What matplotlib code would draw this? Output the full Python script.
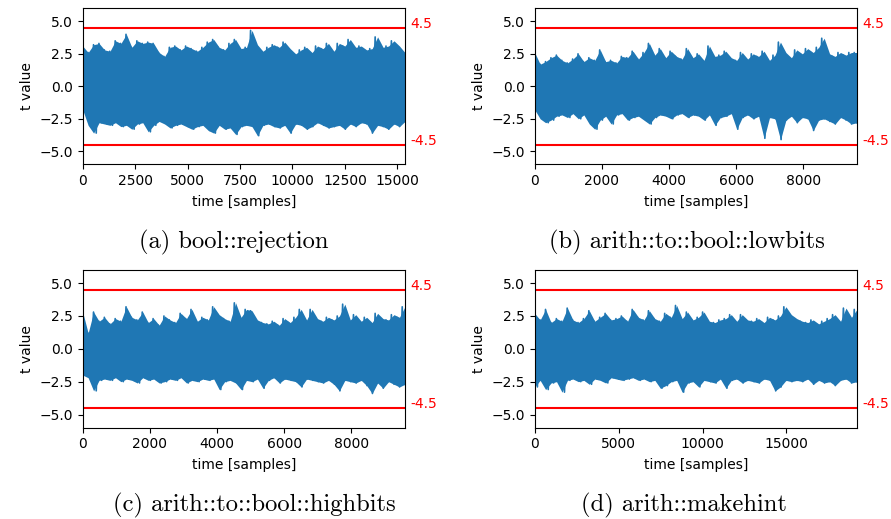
import numpy as np
import matplotlib
matplotlib.use("Agg")
from matplotlib import pyplot as plt
from matplotlib import transforms

# trace lengths (samples) of the four measurements
n_samples = [15360, 9600, 9600, 19200]
captions = ["(a) bool::rejection", "(b) arith::to::bool::lowbits",
            "(c) arith::to::bool::highbits", "(d) arith::makehint"]
threshold = 4.5

# upper / lower envelope of each t-value trace (60 bins)
hi_a = [3.1, 2.6, 3.2, 3.3, 2.8, 2.7, 3.5, 3.3, 4.0, 3.0,
        3.5, 3.3, 3.4, 3.3, 2.6, 2.3, 3.0, 3.1, 2.8, 3.1,
        2.9, 2.7, 3.0, 3.4, 3.6, 3.0, 2.8, 3.3, 3.6, 2.9,
        3.0, 4.3, 3.2, 2.7, 3.0, 3.2, 3.0, 3.4, 2.9, 2.5,
        2.8, 3.0, 2.6, 3.1, 2.9, 3.3, 2.7, 3.3, 3.1, 3.6,
        3.0, 3.1, 2.8, 2.9, 3.8, 3.0, 3.1, 3.5, 3.1, 2.6]
lo_a = [-1.8, -3.0, -3.6, -2.8, -2.9, -3.0, -2.8, -3.1, -3.0, -3.3,
        -2.9, -2.8, -3.5, -3.0, -2.7, -2.9, -3.2, -3.0, -2.9, -3.1,
        -3.3, -3.1, -3.0, -3.4, -3.6, -3.0, -3.3, -3.2, -3.7, -3.1,
        -3.0, -3.1, -3.8, -3.0, -2.9, -3.1, -3.2, -3.0, -3.6, -2.9,
        -3.0, -3.3, -3.1, -2.8, -3.0, -3.2, -3.1, -3.0, -3.3, -2.9,
        -3.1, -2.8, -2.9, -3.6, -3.0, -3.1, -3.3, -2.9, -3.1, -2.7]

hi_b = [2.6, 1.7, 1.9, 2.2, 2.4, 2.0, 1.8, 2.1, 2.5, 1.9,
        2.2, 2.0, 2.8, 1.9, 2.0, 1.8, 2.3, 2.2, 2.7, 2.1,
        2.6, 3.3, 2.4, 2.9, 2.2, 2.7, 2.3, 2.1, 2.9, 2.2,
        2.5, 2.0, 3.1, 2.3, 2.4, 2.7, 2.2, 2.0, 2.6, 2.1,
        2.5, 2.3, 2.7, 2.0, 2.4, 3.4, 2.6, 2.2, 2.8, 2.5,
        2.9, 2.6, 3.0, 3.7, 2.5, 2.3, 2.6, 2.4, 2.6, 2.6]
lo_b = [-1.8, -2.5, -2.8, -2.6, -2.3, -2.2, -2.4, -2.1, -2.5, -2.2,
        -2.9, -3.3, -2.6, -2.3, -2.9, -2.2, -2.1, -2.6, -2.4, -2.3,
        -2.6, -2.9, -2.4, -2.2, -2.3, -2.5, -2.2, -2.1, -2.4, -2.2,
        -2.3, -2.6, -2.2, -3.0, -2.4, -2.3, -2.1, -3.3, -2.4, -2.2,
        -2.5, -2.3, -4.0, -2.4, -2.5, -4.1, -2.6, -2.3, -2.8, -2.4,
        -2.5, -3.4, -2.6, -2.5, -2.7, -2.9, -2.4, -2.6, -2.9, -2.8]

hi_c = [2.8, 1.2, 2.8, 2.1, 2.4, 1.9, 2.3, 2.1, 3.2, 2.4,
        2.2, 2.8, 2.0, 2.3, 1.8, 2.5, 2.2, 2.0, 2.7, 2.3,
        3.0, 2.1, 2.4, 2.2, 3.2, 2.6, 2.3, 2.1, 3.5, 2.4,
        3.0, 2.9, 2.2, 2.0, 1.9, 2.1, 1.8, 2.3, 2.0, 2.4,
        3.0, 2.2, 3.0, 2.3, 2.1, 2.4, 2.2, 2.5, 3.4, 2.2,
        2.6, 2.1, 2.4, 2.0, 2.7, 2.3, 2.2, 2.6, 2.4, 3.2]
lo_c = [-2.0, -2.2, -3.2, -2.4, -2.3, -2.4, -2.2, -2.5, -2.3, -2.4,
        -2.6, -2.2, -2.4, -2.3, -2.6, -2.5, -2.3, -2.4, -2.2, -2.6,
        -2.4, -2.5, -2.3, -2.4, -2.3, -3.1, -2.5, -2.4, -2.6, -3.1,
        -2.4, -2.5, -2.3, -3.0, -2.4, -2.2, -2.6, -2.3, -2.4, -2.5,
        -2.9, -2.3, -2.4, -2.5, -2.6, -2.4, -2.7, -3.2, -2.4, -2.5,
        -2.6, -2.4, -2.8, -3.4, -2.6, -3.0, -2.5, -2.7, -2.9, -2.7]

hi_d = [2.7, 2.2, 3.0, 2.0, 2.3, 2.1, 3.1, 2.2, 2.0, 2.3,
        2.9, 2.1, 2.4, 2.7, 2.2, 2.3, 2.5, 2.1, 3.0, 2.4,
        2.2, 2.9, 2.3, 2.1, 2.7, 2.4, 3.3, 2.3, 2.8, 2.2,
        2.4, 2.8, 2.1, 2.0, 2.2, 2.3, 2.6, 2.1, 2.6, 2.2,
        2.1, 2.3, 2.0, 2.4, 2.2, 2.5, 3.2, 2.6, 2.3, 2.1,
        2.0, 2.2, 1.9, 2.1, 2.3, 2.6, 2.1, 3.1, 2.4, 3.0]
lo_d = [-2.9, -2.4, -3.1, -2.6, -2.5, -3.3, -2.4, -2.3, -2.5, -2.4,
        -2.7, -2.3, -2.4, -2.6, -2.2, -2.3, -2.4, -2.3, -2.2, -2.4,
        -2.3, -2.5, -2.4, -3.0, -2.8, -2.5, -2.4, -3.3, -2.6, -2.5,
        -2.9, -2.4, -2.5, -2.6, -2.3, -3.0, -2.4, -2.3, -2.6, -2.4,
        -2.5, -2.6, -2.3, -2.4, -3.2, -2.9, -2.4, -2.5, -2.4, -2.5,
        -2.3, -2.7, -2.4, -2.6, -2.5, -2.8, -2.4, -2.3, -2.6, -2.5]

highs = [hi_a, hi_b, hi_c, hi_d]
lows = [lo_a, lo_b, lo_c, lo_d]

fig = plt.figure(figsize=(8.91, 5.19), dpi=100)

# axes boxes in figure fractions: left/right column, top/bottom row
lefts = [0.0928, 0.6001, 0.0928, 0.6001]
bottoms = [0.6834, 0.6834, 0.176, 0.176]
width = 0.3617
heights = [0.3006, 0.3006, 0.3038, 0.3038]
cap_x = [0.262, 0.771, 0.285, 0.768]
cap_y = [0.521, 0.521, 0.015, 0.015]

for k in range(4):
    ax = fig.add_axes([lefts[k], bottoms[k], width, heights[k]])
    hi = np.array(highs[k])
    lo = np.array(lows[k])
    # alternate between upper and lower envelope -> dense noisy trace
    y = np.column_stack([hi, lo]).ravel()
    x = np.linspace(0, n_samples[k] - 1, len(y))
    xc = np.linspace(0, n_samples[k] - 1, len(hi))
    ax.fill_between(xc, lo, hi, color='C0', lw=0)
    ax.plot(x, y, color='C0', lw=1.2)
    ax.axhline(threshold, color='red', lw=1.5)
    ax.axhline(-threshold, color='red', lw=1.5)
    trans = transforms.blended_transform_factory(ax.transAxes, ax.transData)
    ax.text(1.018, threshold, '4.5', color='red', fontsize=10, transform=trans)
    ax.text(1.018, -threshold, '-4.5', color='red', fontsize=10, transform=trans)
    ax.set_xlim(0, n_samples[k])
    ax.set_ylim(-6, 6)
    ax.set_yticks([-5, -2.5, 0, 2.5, 5])
    ax.tick_params(labelsize=10)
    ax.set_xlabel('time [samples]', fontsize=10, labelpad=5)
    ax.set_ylabel('t value', fontsize=10)
    fig.text(cap_x[k], cap_y[k], captions[k], family='cmr10', fontsize=17.7,
             ha='center', va='baseline')

plt.savefig('out.png', dpi=100)
